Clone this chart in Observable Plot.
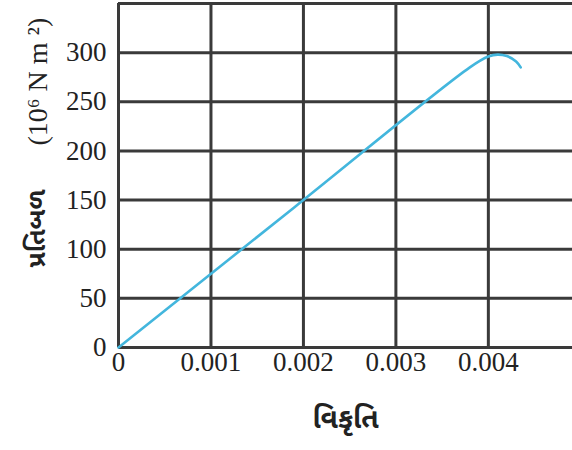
<!DOCTYPE html>
<html><head><meta charset="utf-8">
<script src="https://cdn.jsdelivr.net/npm/d3@7"></script>
<script src="https://cdn.jsdelivr.net/npm/@observablehq/plot@0.6"></script>
<style>body{margin:0;background:#fff}</style>
</head><body><div id="chart"></div>
<script>
const strain = [0, 0.0019, 0.0038, 0.0040, 0.0041, 0.0042, 0.0043, 0.00435];
const stress = [0, 142.5, 285, 296, 298, 296.5, 291, 285];
const xTicks = [0, 0.001, 0.002, 0.003, 0.004];
const xTickLabels = ["0", "0.001", "0.002", "0.003", "0.004"];
const yGrid = [0, 50, 100, 150, 200, 250, 300, 350];
const yTicks = [0, 50, 100, 150, 200, 250, 300];
const yTickLabels = ["0", "50", "100", "150", "200", "250", "300"];
const xLabel = "વિકૃતિ";
const yLabelMain = "પ્રતિબળ";
const yLabelUnit = "(10⁶ N m ²)";

const data = strain.map((s, i) => ({strain: s, stress: stress[i]}));
const serif = "Liberation Serif";
const guj = "Noto Sans Gujarati";

const chart = Plot.plot({
  width: 572, height: 450,
  marginLeft: 118, marginRight: 0, marginTop: 3, marginBottom: 103,
  x: {domain: [0, 0.00491], axis: null},
  y: {domain: [0, 350], axis: null},
  marks: [
    Plot.ruleX(xTicks, {stroke: "#3a3a3a", strokeWidth: 3}),
    Plot.ruleY(yGrid, {stroke: "#3a3a3a", strokeWidth: 3}),
    Plot.line(data, {x: "strain", y: "stress", stroke: "#43b6dd", strokeWidth: 2.6, curve: "catmull-rom"}),
    Plot.text(xTicks, {x: d => d, frameAnchor: "bottom", dy: 23, text: (d, i) => xTickLabels[i],
      fontSize: 27, fontFamily: serif, fill: "#222"}),
    Plot.text(yTicks, {y: d => d, frameAnchor: "left", dx: -12, textAnchor: "end", text: (d, i) => yTickLabels[i],
      fontSize: 27, fontFamily: serif, fill: "#222"}),
    Plot.text([xLabel], {frameAnchor: "bottom", dy: 80, fontSize: 28, fontWeight: "bold",
      fontFamily: guj, fill: "#222"}),
    Plot.text([yLabelUnit], {frameAnchor: "left", dx: -80, dy: -30, rotate: -90, fontSize: 28,
      fontFamily: serif, fill: "#222"}),
    Plot.text([yLabelMain], {frameAnchor: "left", dx: -82, dy: 92, rotate: -90, fontSize: 25,
      fontWeight: "bold", fontFamily: guj, fill: "#222"})
  ]
});
document.getElementById("chart").append(chart);
</script>
</body></html>
